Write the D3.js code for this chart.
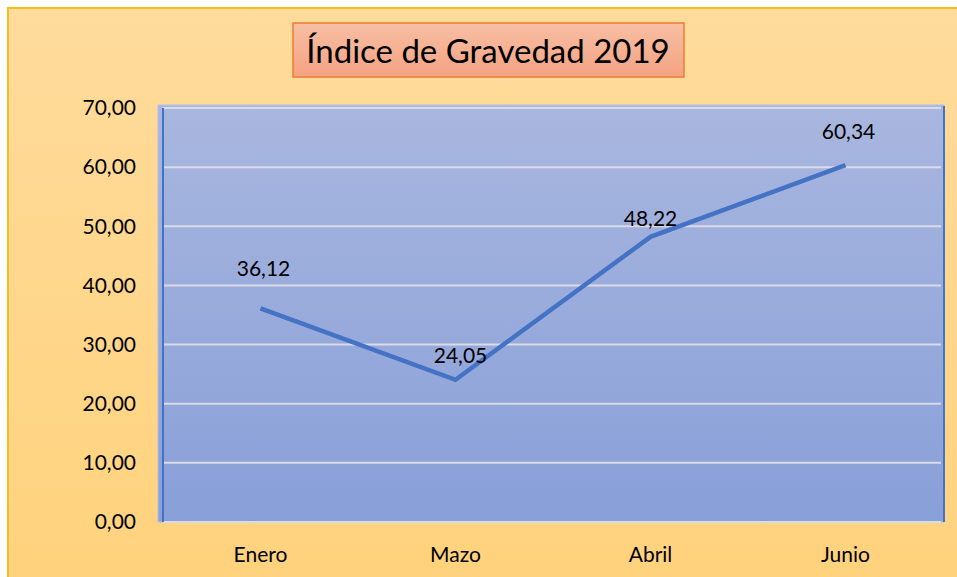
<!DOCTYPE html>
<head>
    <meta charset="utf-8">
    <style>
        body {
            margin: 0;
            padding: 0;
            background: #fff;
        }
        svg {
            display: block;
            font-family: Lato, "Open Sans", sans-serif;
        }
        .grid line {
            stroke: #d9dbe6;
            stroke-width: 2;
        }
        .tick-label {
            font-size: 21px;
            fill: #000;
        }
        .data-label {
            font-size: 21px;
            fill: #000;
            text-anchor: middle;
        }
    </style>
    <script src="https://d3js.org/d3.v7.min.js"></script>
</head>
<body>
    <svg width="957" height="577"></svg>
    <script>
        // data
        var months = ["Enero", "Mazo", "Abril", "Junio"];
        var indice = [36.12, 24.05, 48.22, 60.34];
        var yTicks = [0, 10, 20, 30, 40, 50, 60, 70];
        // label nudges (px) as placed in the original
        var labelDx = [3, 5, 0, 3];
        var labelDy = [-40, -24, -18, -33];

        var svg = d3.select("svg");
        var fmt = function (v) { return v.toFixed(2).replace(".", ","); };

        // gradients
        var defs = svg.append("defs");
        var g1 = defs.append("linearGradient").attr("id", "bgGrad")
            .attr("x1", 0).attr("y1", 0).attr("x2", 0).attr("y2", 1);
        g1.append("stop").attr("offset", "0%").attr("stop-color", "#ffdb9c");
        g1.append("stop").attr("offset", "100%").attr("stop-color", "#ffd27b");
        var g2 = defs.append("linearGradient").attr("id", "plotGrad")
            .attr("x1", 0).attr("y1", 0).attr("x2", 0).attr("y2", 1);
        g2.append("stop").attr("offset", "0%").attr("stop-color", "#a9b7df");
        g2.append("stop").attr("offset", "100%").attr("stop-color", "#889fd8");
        var g3 = defs.append("linearGradient").attr("id", "titleGrad")
            .attr("x1", 0).attr("y1", 0).attr("x2", 0).attr("y2", 1);
        g3.append("stop").attr("offset", "0%").attr("stop-color", "#f8bfa4");
        g3.append("stop").attr("offset", "100%").attr("stop-color", "#f4a282");

        // chart area
        svg.append("rect")
            .attr("x", 8).attr("y", 8)
            .attr("width", 970).attr("height", 600)
            .attr("fill", "url(#bgGrad)")
            .attr("stroke", "#f5bd1e")
            .attr("stroke-width", 2);

        // scales
        var pLeft = 163, pRight = 943, pTop = 108, pBottom = 522;
        var x = d3.scaleBand().domain(months).range([pLeft, pRight]);
        var y = d3.scaleLinear().domain([0, 70]).range([pBottom, pTop]);

        // plot area
        svg.append("rect")
            .attr("x", 158).attr("y", 105)
            .attr("width", pRight - 158 + 1).attr("height", pBottom - 105)
            .attr("fill", "url(#plotGrad)");
        svg.append("rect")
            .attr("x", 158).attr("y", 105)
            .attr("width", pRight - 158 + 1).attr("height", pBottom - 105)
            .attr("fill", "none")
            .attr("stroke", "#b3bee3")
            .attr("stroke-width", 1);

        // gridlines
        svg.append("g")
            .attr("class", "grid")
            .selectAll("line")
            .data(yTicks)
            .enter().append("line")
                .attr("x1", pLeft).attr("x2", pRight - 2)
                .attr("y1", function (d) { return y(d); })
                .attr("y2", function (d) { return y(d); });

        // vertical blue edges
        svg.append("line")
            .attr("x1", pLeft).attr("x2", pLeft)
            .attr("y1", pTop).attr("y2", pBottom)
            .attr("stroke", "#4472c4").attr("stroke-width", 2);
        svg.append("line")
            .attr("x1", pRight + 1).attr("x2", pRight + 1)
            .attr("y1", pTop - 2).attr("y2", pBottom)
            .attr("stroke", "#4472c4").attr("stroke-width", 2);

        // y axis labels
        svg.append("g")
            .selectAll("text")
            .data(yTicks)
            .enter().append("text")
                .attr("class", "tick-label")
                .attr("x", 136)
                .attr("y", function (d) { return y(d); })
                .attr("dy", "0.35em")
                .attr("text-anchor", "end")
                .text(fmt);

        // x axis labels
        svg.append("g")
            .selectAll("text")
            .data(months)
            .enter().append("text")
                .attr("class", "tick-label")
                .attr("x", function (d) { return x(d) + x.bandwidth() / 2; })
                .attr("y", 555)
                .attr("dy", "0.35em")
                .attr("text-anchor", "middle")
                .text(function (d) { return d; });

        // line
        var line = d3.line()
            .x(function (d, i) { return x(months[i]) + x.bandwidth() / 2; })
            .y(function (d) { return y(d); });
        svg.append("path")
            .datum(indice)
            .attr("d", line)
            .attr("fill", "none")
            .attr("stroke", "#4472c4")
            .attr("stroke-width", 4.5)
            .attr("stroke-linejoin", "miter");

        // data labels
        svg.append("g")
            .selectAll("text")
            .data(indice)
            .enter().append("text")
                .attr("class", "data-label")
                .attr("x", function (d, i) { return x(months[i]) + x.bandwidth() / 2 + labelDx[i]; })
                .attr("y", function (d, i) { return y(d) + labelDy[i]; })
                .attr("dy", "0.35em")
                .text(fmt);

        // title box
        svg.append("rect")
            .attr("x", 293).attr("y", 23)
            .attr("width", 391).attr("height", 54)
            .attr("fill", "url(#titleGrad)")
            .attr("stroke", "#ed7d31")
            .attr("stroke-width", 1.5);
        svg.append("text")
            .attr("x", 488).attr("y", 51)
            .attr("dy", "0.35em")
            .attr("text-anchor", "middle")
            .attr("font-size", 33)
            .attr("fill", "#000")
            .text("Índice de Gravedad 2019");
    </script>
</body>
</html>
